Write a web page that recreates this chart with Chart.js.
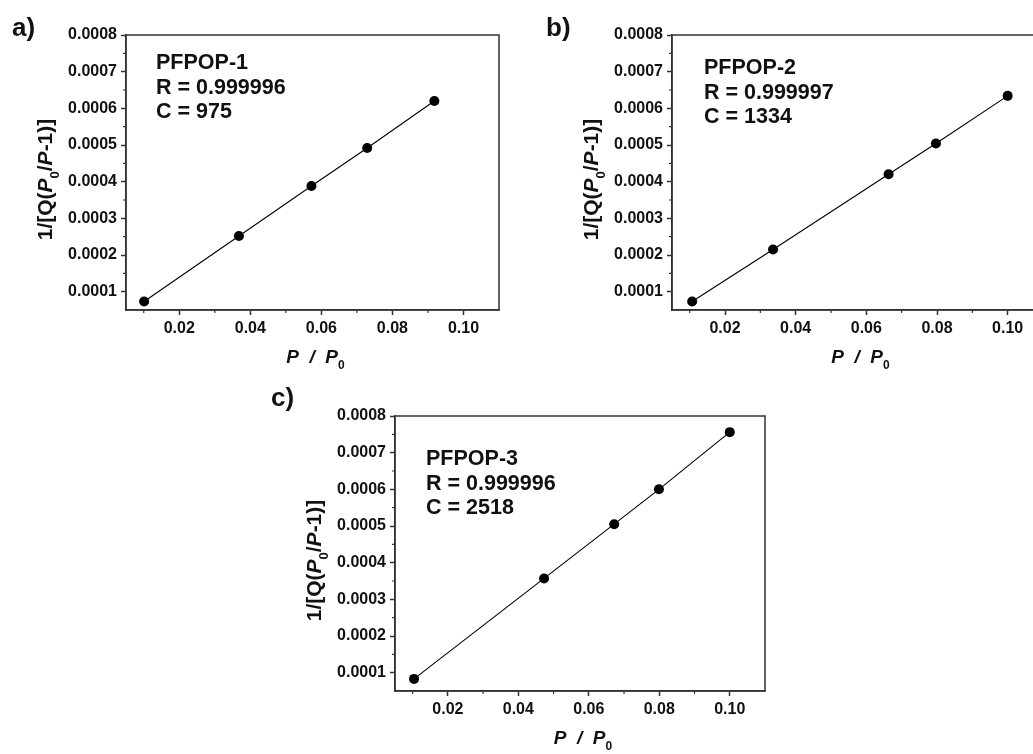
<!DOCTYPE html>
<html><head><meta charset="utf-8">
<script src="https://cdn.jsdelivr.net/npm/chart.js@4.4.0/dist/chart.umd.min.js"></script>
<style>
html,body{margin:0;padding:0;background:#fff;overflow:hidden;width:1033px;height:754px;position:relative}
canvas{position:absolute}
</style></head><body>
<canvas id="ca" width="520" height="380" style="left:0;top:0"></canvas>
<canvas id="cb" width="540" height="380" style="left:520px;top:0"></canvas>
<canvas id="cc" width="520" height="384" style="left:250px;top:370px"></canvas>
<script>
// ---- data ----
const xTickValues = [0.02, 0.04, 0.06, 0.08, 0.10];
const xTickLabels = ['0.02', '0.04', '0.06', '0.08', '0.10'];
const yTickValues = [0.0001, 0.0002, 0.0003, 0.0004, 0.0005, 0.0006, 0.0007, 0.0008];
const yTickLabels = ['0.0001', '0.0002', '0.0003', '0.0004', '0.0005', '0.0006', '0.0007', '0.0008'];
const xMinorTicks = [0.01, 0.03, 0.05, 0.07, 0.09];
const yMinorTicks = [0.00015, 0.00025, 0.00035, 0.00045, 0.00055, 0.00065, 0.00075];
const panelLetters = ['a)', 'b)', 'c)'];
const sampleNames = ['PFPOP-1', 'PFPOP-2', 'PFPOP-3'];
const rValues = ['0.999996', '0.999997', '0.999996'];
const cValues = ['975', '1334', '2518'];

const xA = [0.0101, 0.0368, 0.0572, 0.0729, 0.0918];
const yA = [0.000073, 0.000252, 0.000388, 0.000492, 0.000620];
const xB = [0.0107, 0.0336, 0.0663, 0.0797, 0.1000];
const yB = [0.000073, 0.000215, 0.000420, 0.000504, 0.000634];
const xC = [0.0104, 0.0473, 0.0672, 0.0799, 0.1000];
const yC = [0.000083, 0.000357, 0.000505, 0.000600, 0.000756];

const FONT = '"Liberation Sans", Arial, Helvetica, sans-serif';
const INK = '#111';
const AXIS = '#333';

function drawRich(ctx, parts, x, y, size) {
  let total = 0;
  const m = parts.map(p => {
    const fs = p.sub ? Math.round(size * 0.62) : size;
    const f = (p.italic ? 'italic ' : '') + 'bold ' + fs + 'px ' + FONT;
    ctx.font = f;
    const w = ctx.measureText(p.t).width;
    total += w;
    return { f, w, p };
  });
  let cx = x - total / 2;
  ctx.textAlign = 'left';
  ctx.textBaseline = 'alphabetic';
  m.forEach(o => {
    ctx.font = o.f;
    ctx.fillText(o.p.t, cx, y + (o.p.sub ? size * 0.32 : 0));
    cx += o.w;
  });
}

const decoPlugin = {
  id: 'deco',
  afterDraw(chart) {
    const o = chart.options.plugins.deco;
    const ctx = chart.ctx;
    const a = chart.chartArea;
    const xs = chart.scales.x, ys = chart.scales.y;
    ctx.save();
    ctx.strokeStyle = AXIS;
    ctx.lineWidth = 1.5;
    ctx.strokeRect(a.left, a.top, a.right - a.left, a.bottom - a.top);
    ctx.lineWidth = 1.2;
    ctx.beginPath();
    xMinorTicks.forEach(v => {
      const px = xs.getPixelForValue(v);
      if (px > a.left + 1 && px < a.right - 1) { ctx.moveTo(px, a.bottom); ctx.lineTo(px, a.bottom + 3); }
    });
    yMinorTicks.forEach(v => {
      const py = ys.getPixelForValue(v);
      ctx.moveTo(a.left, py); ctx.lineTo(a.left - 3, py);
    });
    ctx.stroke();
    ctx.fillStyle = INK;
    ctx.font = 'bold 26px ' + FONT;
    ctx.textAlign = 'left';
    ctx.textBaseline = 'alphabetic';
    ctx.fillText(o.letter, o.letterX, o.letterY);
    ctx.font = 'bold 21.5px ' + FONT;
    o.lines.forEach((t, i) => ctx.fillText(t, a.left + o.tx, a.top + o.ty + i * 24.5));
    const cxm = (a.left + a.right) / 2 + 3;
    drawRich(ctx, [
      { t: 'P', italic: true }, { t: '  /  ', italic: true }, { t: 'P', italic: true }, { t: '0', sub: true }
    ], cxm, a.bottom + 53, 19);
    ctx.save();
    ctx.translate(a.left - 74, (a.top + a.bottom) / 2 + 7);
    ctx.rotate(-Math.PI / 2);
    drawRich(ctx, [
      { t: '1/[Q(' }, { t: 'P', italic: true }, { t: '0', sub: true }, { t: '/' },
      { t: 'P', italic: true }, { t: '-1)]' }
    ], 0, 0, 21);
    ctx.restore();
    ctx.restore();
  }
};

function makeChart(id, xs, ys, pad, yWidth, xHeight, deco) {
  return new Chart(document.getElementById(id), {
    type: 'scatter',
    data: {
      datasets: [{
        data: xs.map((x, i) => ({ x: x, y: ys[i] })),
        showLine: true,
        borderColor: '#000',
        borderWidth: 1.1,
        pointRadius: 5,
        pointHoverRadius: 5,
        pointBackgroundColor: '#000',
        pointBorderColor: '#000',
        pointBorderWidth: 0
      }]
    },
    options: {
      responsive: false,
      animation: false,
      devicePixelRatio: 1,
      layout: { padding: pad },
      plugins: { legend: { display: false }, tooltip: { enabled: false }, deco: deco },
      scales: {
        x: {
          type: 'linear', min: 0.005, max: 0.11,
          afterBuildTicks: s => { s.ticks = xTickValues.map(v => ({ value: v })); },
          afterFit: s => { s.height = xHeight; },
          ticks: {
            autoSkip: false, maxRotation: 0, padding: 4, color: INK,
            font: { family: FONT, size: 16, weight: 'bold' },
            callback: (v, i) => xTickLabels[i]
          },
          grid: { display: true, drawOnChartArea: false, drawTicks: true, tickLength: 5, tickColor: AXIS, tickWidth: 1.5 },
          border: { display: true, color: AXIS, width: 1.5 }
        },
        y: {
          type: 'linear', min: 0.00005, max: 0.0008,
          afterBuildTicks: s => { s.ticks = yTickValues.map(v => ({ value: v })); },
          afterFit: s => { s.width = yWidth; },
          ticks: {
            autoSkip: false, padding: 4, color: INK,
            font: { family: FONT, size: 16, weight: 'bold' },
            callback: (v, i) => yTickLabels[i]
          },
          grid: { display: true, drawOnChartArea: false, drawTicks: true, tickLength: 5, tickColor: AXIS, tickWidth: 1.5 },
          border: { display: true, color: AXIS, width: 1.5 }
        }
      }
    },
    plugins: [decoPlugin]
  });
}

makeChart('ca', xA, yA, { left: 0, top: 35, right: 21, bottom: 0 }, 126, 70, {
  letter: panelLetters[0], letterX: 12, letterY: 36,
  lines: [sampleNames[0], 'R = ' + rValues[0], 'C = ' + cValues[0]], tx: 30, ty: 34
});
makeChart('cb', xB, yB, { left: 0, top: 35, right: 17, bottom: 0 }, 152, 70, {
  letter: panelLetters[1], letterX: 26, letterY: 36,
  lines: [sampleNames[1], 'R = ' + rValues[1], 'C = ' + cValues[1]], tx: 32, ty: 39
});
makeChart('cc', xC, yC, { left: 0, top: 46, right: 2, bottom: 0 }, 145, 63, {
  letter: panelLetters[2], letterX: 21, letterY: 36,
  lines: [sampleNames[2], 'R = ' + rValues[2], 'C = ' + cValues[2]], tx: 31, ty: 49
});
</script>
</body></html>
